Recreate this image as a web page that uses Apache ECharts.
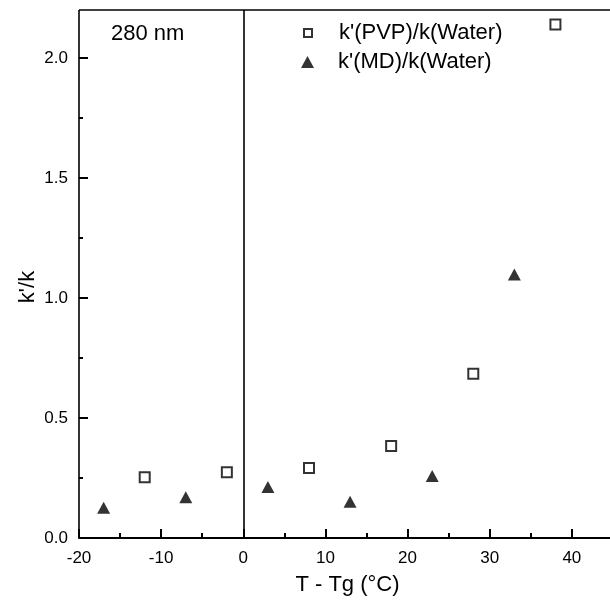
<!DOCTYPE html>
<html>
<head>
<meta charset="utf-8">
<script src="https://cdn.jsdelivr.net/npm/echarts@6/dist/echarts.min.js"></script>
<style>
  html, body { margin: 0; padding: 0; background: #fff; }
  #main { width: 610px; height: 605px; }
</style>
</head>
<body>
<div id="main"></div>
<script>
// T - Tg (°C) and k'/k
var pvpT = [-12, -2, 8, 18, 28, 38];
var pvpK = [0.253, 0.274, 0.292, 0.383, 0.684, 2.14];
var mdT = [-17, -7, 3, 13, 23, 33];
var mdK = [0.126, 0.17, 0.213, 0.151, 0.258, 1.098];
var seriesNames = ["k'(PVP)/k(Water)", "k'(MD)/k(Water)"];
var xTicks = [-20, -10, 0, 10, 20, 30, 40];
var yTicks = [0, 0.5, 1.0, 1.5, 2.0];

function pairs(xs, ys) {
  var out = [];
  for (var i = 0; i < xs.length; i++) out.push([xs[i], ys[i]]);
  return out;
}

var font = 'Liberation Sans, Arial, sans-serif';
var chart = echarts.init(document.getElementById('main'));

var frame = { color: '#000', width: 1.6, type: 'solid' };
var tick = { color: '#000', width: 2 };

var option = {
  animation: false,
  backgroundColor: '#fff',
  textStyle: { fontFamily: font, color: '#000' },
  title: {
    text: '280 nm',
    left: 111, top: 23, padding: 0,
    textStyle: { fontFamily: font, fontSize: 22, fontWeight: 'normal', color: '#000' }
  },
  legend: [{
    data: [seriesNames[0]],
    left: 303, top: 22, padding: 0,
    itemWidth: 8, itemHeight: 8,
    textStyle: { fontFamily: font, fontSize: 22, color: '#000', padding: [0, 0, 0, 22] }
  }, {
    data: [seriesNames[1]],
    left: 301, top: 51, padding: 0,
    itemWidth: 13, itemHeight: 12,
    textStyle: { fontFamily: font, fontSize: 22, color: '#000', padding: [0, 0, 0, 19] }
  }],
  // plot goes past the window on the top and right so that the
  // 2.2 / 45 edges of the original frame land on y=10 and x=610
  grid: { left: 79, top: -62, width: 575, height: 600, outerBoundsMode: 'none', containLabel: false },
  xAxis: {
    type: 'value',
    min: -20, max: 50, interval: 10,
    name: 'T - Tg (°C)',
    nameLocation: 'middle',
    nameGap: 36,
    // right padding pulls the centred name back to the visible middle
    nameTextStyle: { fontFamily: font, fontSize: 22, color: '#000', padding: [0, 38, 0, 0] },
    splitLine: { show: false },
    axisLine: { show: true, onZero: false, lineStyle: { color: '#000', width: 2 } },
    axisTick: { show: true, inside: true, length: 9, lineStyle: tick },
    minorTick: { show: true, splitNumber: 2, length: 5, lineStyle: tick },
    axisLabel: {
      margin: 12, fontFamily: font, fontSize: 17, color: '#000',
      formatter: function (v) { return xTicks.indexOf(v) >= 0 ? String(v) : ''; }
    }
  },
  yAxis: {
    type: 'value',
    min: 0, max: 2.5, interval: 0.5,
    name: "k'/k",
    nameLocation: 'middle',
    nameGap: 40,
    nameMoveOverlap: false,
    nameTextStyle: { fontFamily: font, fontSize: 22, color: '#000', padding: [0, 98, 0, 0] },
    splitLine: { show: false },
    axisLine: { show: false, onZero: false },
    axisTick: { show: true, inside: true, length: 9, lineStyle: tick },
    minorTick: { show: true, splitNumber: 2, length: 4, lineStyle: tick },
    axisLabel: {
      margin: 11, fontFamily: font, fontSize: 17, color: '#000',
      formatter: function (v) { return yTicks.indexOf(v) >= 0 ? v.toFixed(1) : ''; }
    }
  },
  series: [{
    name: seriesNames[0],
    type: 'scatter',
    symbol: 'rect',
    symbolSize: 10,
    itemStyle: { color: '#fff', borderColor: '#000', borderWidth: 2 },
    data: pairs(pvpT, pvpK),
    markLine: {
      silent: true,
      symbol: ['none', 'none'],
      label: { show: false },
      lineStyle: frame,
      data: [
        [{ coord: [-20, 0] }, { coord: [-20, 2.2] }],
        [{ coord: [-20, 2.2] }, { coord: [50, 2.2] }],
        [{ coord: [0, 0] }, { coord: [0, 2.2] }]
      ]
    }
  }, {
    name: seriesNames[1],
    type: 'scatter',
    symbol: 'triangle',
    symbolSize: [13, 12],
    itemStyle: { color: '#000' },
    data: pairs(mdT, mdK)
  }]
};

option && chart.setOption(option);
</script>
</body>
</html>
